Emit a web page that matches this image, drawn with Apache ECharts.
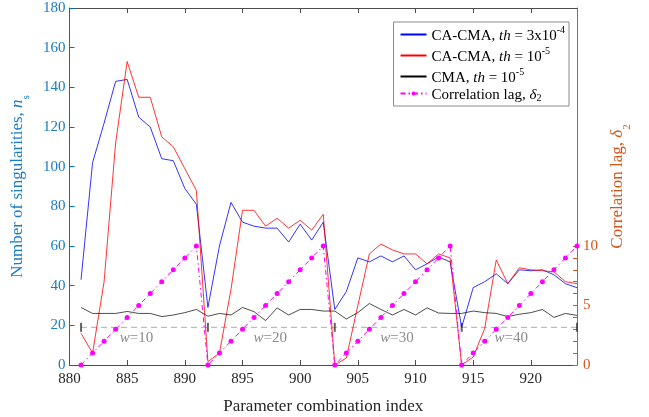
<!DOCTYPE html>
<html><head><meta charset="utf-8">
<script src="https://cdn.jsdelivr.net/npm/echarts@6/dist/echarts.min.js"></script>
<style>html,body{margin:0;padding:0;background:#fff}#c{width:649px;height:417px}</style>
</head><body><div id="c"></div>
<script>
// ---- data ----
const indices = [881,882,883,884,885,886,887,888,889,890,891,
                 892,893,894,895,896,897,898,899,900,901,902,
                 903,904,905,906,907,908,909,910,911,912,913,
                 914,915,916,917,918,919,920,921,922,923,924];
const caCma3e4 = [43,102,122,143,144,125,120,104,103,89,81,
                  29,60,82,72,70,69,69,62,71,63,72,
                  28,37,54,52,55,52,55,48,51,54.5,52,
                  19,39,42,46,41,48,47.5,48,45.5,41,39];
const caCma1e5 = [16,6,42,112,153,135,135,115,110,99,88,
                  1.7,6,38,78,78,70,74,69,73,68,76,
                  0,3.5,30,56,61,58,56,56,51,56,54,
                  0,4,18.5,53,41,49,48,47.5,47,42,41];
const cma1e5 = [29,26,26,26,27,26,26,24.4,25.2,26.4,28,
                24.6,26,25.2,29,26.9,22.4,28.8,25.2,28,28,27.2,
                27.2,23.2,26.4,31,28,25.2,28,25.2,28.8,26.2,26,
                26,27.2,26.4,26,24.4,25.6,26.4,28,24,26,25];
const lagDelta2 = [0,1,2,3,4,5,6,7,8,9,10,
                   0,1,2,3,4,5,6,7,8,9,10,
                   0,1,2,3,4,5,6,7,8,9,10,
                   0,1,2,3,4,5,6,7,8,9,10];
const xTickValues = [880,885,890,895,900,905,910,915,920];
const lagTickValues = [0,1,2,3,4,5,6,7,8,9,10];
const lagLabelValues = [0,5,10];
const groupBounds = [881,892,903,914,924];
const windowLevel = 19;
const windowLabels = ['10','20','30','40'];
const windowLabelX = [885.8,897.4,908.4,918.3];
const seriesNames = ['CA-CMA, th = 3x10^-4','CA-CMA, th = 10^-5','CMA, th = 10^-5','Correlation lag, δ2'];

// ---- chart ----
const FONT = 'Liberation Serif';
const pairs = arr => indices.map((x,i)=>[x, arr[i]]);
const legendRich = {
  n:{fontFamily:FONT,fontSize:15,color:'#000',lineHeight:19,verticalAlign:'bottom'},
  i:{fontFamily:FONT,fontSize:15,color:'#000',fontStyle:'italic',lineHeight:19,verticalAlign:'bottom'},
  sup:{fontFamily:FONT,fontSize:10,color:'#000',lineHeight:12,verticalAlign:'top'},
  sub:{fontFamily:FONT,fontSize:10,color:'#000',lineHeight:8,verticalAlign:'bottom'}
};
const legendFmt = {};
legendFmt[seriesNames[0]] = '{n|CA-CMA, }{i|th}{n| = 3x10}{sup|-4}';
legendFmt[seriesNames[1]] = '{n|CA-CMA, }{i|th}{n| = 10}{sup|-5}';
legendFmt[seriesNames[2]] = '{n|CMA, }{i|th}{n| = 10}{sup|-5}';
legendFmt[seriesNames[3]] = '{n|Correlation lag, }{i|δ}{sub|2}';

const chart = echarts.init(document.getElementById('c'));
chart.setOption({
  animation:false,
  backgroundColor:'#fff',
  textStyle:{fontFamily:FONT},
  grid:{left:69.5,right:72,top:8,bottom:52,containLabel:false,outerBoundsMode:'none'},
  legend:{
    orient:'vertical', right:80, top:22,
    data:seriesNames.map((n,i)=> i<3 ? {name:n,itemStyle:{opacity:0}} : {name:n}),
    backgroundColor:'#fff', borderColor:'#8a8a8a', borderWidth:1, borderRadius:0,
    padding:[3,4,3,6], itemGap:2, itemWidth:26, itemHeight:5,
    textStyle:{fontFamily:FONT,fontSize:15,color:'#000',rich:legendRich},
    formatter:name=>legendFmt[name]
  },
  xAxis:[{
    type:'value', min:880, max:924, interval:5, position:'bottom',
    axisLine:{onZero:false,lineStyle:{color:'#4d4d4d',width:1}},
    axisTick:{inside:true,length:5,customValues:xTickValues,lineStyle:{color:'#4d4d4d'}},
    axisLabel:{color:'#262626',fontSize:15,fontFamily:FONT,margin:7,customValues:xTickValues},
    splitLine:{show:false},
    name:'Parameter combination index', nameLocation:'middle', nameGap:33,
    nameTextStyle:{color:'#262626',fontSize:17,fontFamily:FONT}
  },{
    type:'value', min:880, max:924, interval:5, position:'top',
    axisLine:{onZero:false,lineStyle:{color:'#4d4d4d',width:1}},
    axisTick:{inside:true,length:5,customValues:xTickValues,lineStyle:{color:'#4d4d4d'}},
    axisLabel:{show:false}, splitLine:{show:false}
  }],
  yAxis:[{
    type:'value', min:0, max:180, interval:20, position:'left',
    axisLine:{show:true,onZero:false,lineStyle:{color:'#0072BD',width:1}},
    axisTick:{show:true,inside:true,length:5,lineStyle:{color:'#0072BD'}},
    axisLabel:{color:'#1a7cc4',fontSize:15,fontFamily:FONT,margin:4},
    splitLine:{show:false},
    name:'{n|Number of singularities, }{i|n}{sub|s}', nameLocation:'middle', nameRotate:90, nameGap:38,
    nameTextStyle:{rich:{
      n:{fontFamily:FONT,fontSize:17,color:'#1a7cc4',lineHeight:20,verticalAlign:'top'},
      i:{fontFamily:FONT,fontSize:17,color:'#1a7cc4',fontStyle:'italic',lineHeight:20,verticalAlign:'top'},
      sub:{fontFamily:FONT,fontSize:11,color:'#1a7cc4',lineHeight:22,verticalAlign:'bottom'}
    }}
  },{
    type:'value', min:0, max:30, interval:5, position:'right',
    axisLine:{show:true,onZero:false,lineStyle:{color:'#D95319',width:1}},
    axisTick:{show:true,inside:true,length:4,customValues:lagTickValues,lineStyle:{color:'#D95319'}},
    axisLabel:{color:'#D95319',fontSize:15,fontFamily:FONT,margin:6,customValues:lagLabelValues},
    splitLine:{show:false},
    name:'{n|Correlation lag, }{i|δ}{sub|2}', nameLocation:'middle', nameRotate:90, nameGap:30,
    nameTextStyle:{rich:{
      n:{fontFamily:FONT,fontSize:17,color:'#D95319',lineHeight:20,verticalAlign:'top'},
      i:{fontFamily:FONT,fontSize:17,color:'#D95319',fontStyle:'italic',lineHeight:20,verticalAlign:'top'},
      sub:{fontFamily:FONT,fontSize:11,color:'#D95319',lineHeight:24,verticalAlign:'bottom'}
    }}
  }],
  series:[
    {name:'window', type:'line', xAxisIndex:0, yAxisIndex:0, silent:true, symbol:'none',
     data:[[groupBounds[0],windowLevel],[groupBounds[groupBounds.length-1],windowLevel]],
     lineStyle:{color:'#ababab',width:1,type:[6,4]}, z:1},
    {name:'bounds', type:'scatter', xAxisIndex:0, yAxisIndex:0, silent:true, symbol:'rect', symbolSize:[2,9],
     data:groupBounds.map(x=>[x,windowLevel]), itemStyle:{color:'#3c3c3c'}, z:2},
    {name:'wlabels', type:'scatter', xAxisIndex:0, yAxisIndex:0, silent:true, symbolSize:0,
     data:windowLabels.map((t,i)=>({value:[windowLabelX[i],windowLevel],name:t})),
     label:{show:true,position:'bottom',distance:3,
       formatter:p=>'{i|w}{n|='+p.name+'}',
       rich:{i:{fontFamily:FONT,fontSize:15,fontStyle:'italic',color:'#6e6e6e'},
             n:{fontFamily:FONT,fontSize:15,color:'#6e6e6e'}}}, z:2},
    {name:seriesNames[0], type:'line', xAxisIndex:0, yAxisIndex:0, symbol:'none', data:pairs(caCma3e4),
     lineStyle:{color:'#0000ff',width:0.8}, itemStyle:{color:'#0000ff'}, z:3},
    {name:seriesNames[1], type:'line', xAxisIndex:0, yAxisIndex:0, symbol:'none', data:pairs(caCma1e5),
     lineStyle:{color:'#ff0000',width:0.8}, itemStyle:{color:'#ff0000'}, z:3},
    {name:seriesNames[2], type:'line', xAxisIndex:0, yAxisIndex:0, symbol:'none', data:pairs(cma1e5),
     lineStyle:{color:'#000000',width:0.7}, itemStyle:{color:'#000000'}, z:3},
    {name:seriesNames[3], type:'line', xAxisIndex:0, yAxisIndex:1, symbol:'circle', symbolSize:5, data:pairs(lagDelta2),
     lineStyle:{color:'#ff00ff',width:1,type:[5,3,1.5,3]}, itemStyle:{color:'#ff00ff'}, z:4}
  ]
});
</script></body></html>
